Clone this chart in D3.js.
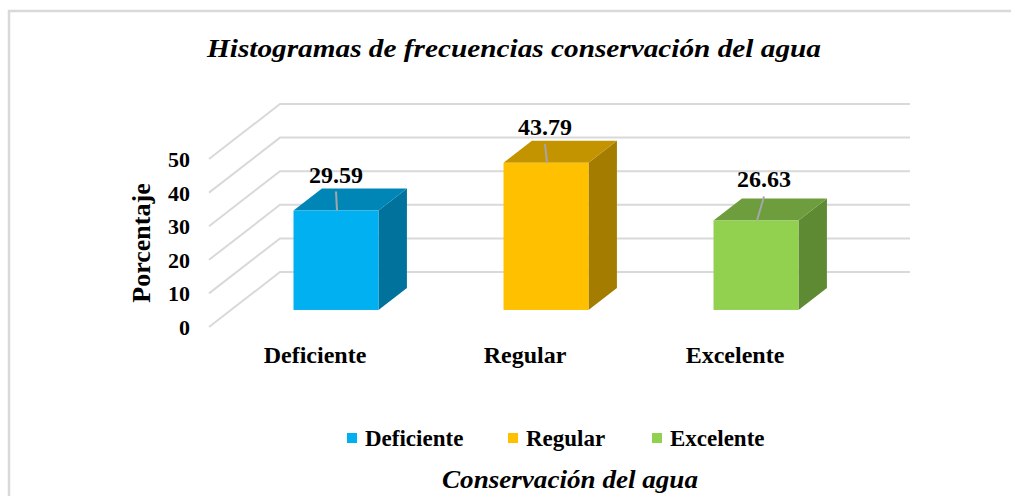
<!DOCTYPE html>
<html>
<head>
<meta charset="utf-8">
<script src="https://cdn.jsdelivr.net/npm/d3@7"></script>
<style>
  body { margin: 0; background: #fff; }
  text { font-family: "Liberation Serif", "Times New Roman", serif; fill: #000; }
</style>
</head>
<body>
<svg id="chart" width="1011" height="496"></svg>
<script>
// chart data
var categories = ["Deficiente", "Regular", "Excelente"];
var values = [29.59, 43.79, 26.63];
var yTicks = [0, 10, 20, 30, 40, 50];
var frontColors = ["#00b0f0", "#ffc000", "#92d050"];
var topColors = ["#0086b6", "#c49300", "#6e9d3d"];
var sideColors = ["#00729b", "#a47c00", "#5f8a34"];

var TITLE = "Histogramas de frecuencias conservación del agua";
var Y_TITLE = "Porcentaje";
var X_TITLE = "Conservación del agua";

var svg = d3.select("#chart");

// 3d box: front plane + depth vector
var DEPTH_DX = 71, DEPTH_DY = -55;
var BAR_D0 = 0.31, BAR_D1 = 0.71;

var x = d3.scaleBand().domain(categories).range([209, 839]).padding(0);
var y = d3.scaleLinear().domain([0, 50]).range([327, 159]);
var barW = 85;

function px(xf, d) { return xf + DEPTH_DX * d; }
function py(v, d) { return y(v) + DEPTH_DY * d; }

// outer border (cut off at right / bottom)
svg.append("rect")
    .attr("x", 9).attr("y", 11)
    .attr("width", 1020).attr("height", 500)
    .attr("fill", "none")
    .attr("stroke", "#d9d9d9")
    .attr("stroke-width", 2.5);

// title
svg.append("text")
    .attr("x", 514).attr("y", 57)
    .attr("text-anchor", "middle")
    .attr("textLength", 614)
    .attr("lengthAdjust", "spacingAndGlyphs")
    .style("font-size", "26px")
    .style("font-weight", "bold")
    .style("font-style", "italic")
    .text(TITLE);

// gridlines: side wall diagonal + back wall
var grid = svg.append("g").attr("class", "grid")
    .attr("stroke", "#d9d9d9").attr("stroke-width", 2).attr("fill", "none");
yTicks.forEach(function(t) {
    grid.append("path")
        .attr("d", d3.line()([
            [px(209, 0), py(t, 0)],
            [px(209, 1), py(t, 1)],
            [px(839, 1), py(t, 1)]
        ]));
});

// y tick labels
svg.append("g").selectAll("text")
    .data(yTicks)
    .join("text")
    .attr("x", 190)
    .attr("y", function(d) { return y(d) + 8; })
    .attr("text-anchor", "end")
    .style("font-size", "22px")
    .style("font-weight", "bold")
    .text(function(d) { return d; });

// y axis title
svg.append("text")
    .attr("transform", "translate(150,243) rotate(-90)")
    .attr("text-anchor", "middle")
    .style("font-size", "26px")
    .style("font-weight", "bold")
    .text(Y_TITLE);

// bars
var bars = svg.append("g").selectAll("g")
    .data(values)
    .join("g")
    .attr("class", "bar");

function barLeft(i) { return x(categories[i]) + (x.bandwidth() - barW) / 2; }

bars.append("path")
    .attr("fill", function(d, i) { return sideColors[i]; })
    .attr("d", function(d, i) {
        var xl = barLeft(i) + barW;
        return d3.line()([
            [px(xl, BAR_D0), py(d, BAR_D0)],
            [px(xl, BAR_D1), py(d, BAR_D1)],
            [px(xl, BAR_D1), py(0, BAR_D1)],
            [px(xl, BAR_D0), py(0, BAR_D0)]
        ]) + "Z";
    });
bars.append("path")
    .attr("fill", function(d, i) { return topColors[i]; })
    .attr("d", function(d, i) {
        var xl = barLeft(i);
        return d3.line()([
            [px(xl, BAR_D0), py(d, BAR_D0)],
            [px(xl, BAR_D1), py(d, BAR_D1)],
            [px(xl + barW, BAR_D1), py(d, BAR_D1)],
            [px(xl + barW, BAR_D0), py(d, BAR_D0)]
        ]) + "Z";
    });
bars.append("rect")
    .attr("fill", function(d, i) { return frontColors[i]; })
    .attr("x", function(d, i) { return px(barLeft(i), BAR_D0); })
    .attr("y", function(d) { return py(d, BAR_D0); })
    .attr("width", barW)
    .attr("height", function(d) { return y(0) - y(d); });

// data labels with leader lines (last one is nudged like in the original)
var nudge = [[0, -36], [-1, -36], [8, -41]];
bars.append("line")
    .attr("stroke", "#a6a6a6").attr("stroke-width", 2)
    .attr("x1", function(d, i) { return px(barLeft(i) + barW / 2, BAR_D0) + nudge[i][0]; })
    .attr("y1", function(d, i) { return py(d, BAR_D0) + nudge[i][1] + 17; })
    .attr("x2", function(d, i) { return px(barLeft(i) + barW / 2, BAR_D0) + 1; })
    .attr("y2", function(d) { return py(d, BAR_D0); });
bars.append("text")
    .attr("x", function(d, i) { return px(barLeft(i) + barW / 2, BAR_D0) + nudge[i][0]; })
    .attr("y", function(d, i) { return py(d, BAR_D0) + nudge[i][1] + 8; })
    .attr("text-anchor", "middle")
    .style("font-size", "24px")
    .style("font-weight", "bold")
    .text(function(d) { return d.toFixed(2); });

// category labels
svg.append("g").selectAll("text")
    .data(categories)
    .join("text")
    .attr("x", function(d) { return x(d) + x.bandwidth() / 2 + 1; })
    .attr("y", 363)
    .attr("text-anchor", "middle")
    .style("font-size", "24px")
    .style("font-weight", "bold")
    .text(function(d) { return d; });

// legend
var legendX = [347, 508, 652];
var legend = svg.append("g").selectAll("g")
    .data(categories)
    .join("g")
    .attr("transform", function(d, i) { return "translate(" + legendX[i] + ",433)"; });
legend.append("rect")
    .attr("width", 10).attr("height", 10)
    .attr("fill", function(d, i) { return frontColors[i]; });
legend.append("text")
    .attr("x", 18).attr("y", 13)
    .style("font-size", "23px")
    .style("font-weight", "bold")
    .text(function(d) { return d; });

// x axis title
svg.append("text")
    .attr("x", 570).attr("y", 488)
    .attr("text-anchor", "middle")
    .attr("textLength", 256)
    .attr("lengthAdjust", "spacingAndGlyphs")
    .style("font-size", "25px")
    .style("font-weight", "bold")
    .style("font-style", "italic")
    .text(X_TITLE);
</script>
</body>
</html>
